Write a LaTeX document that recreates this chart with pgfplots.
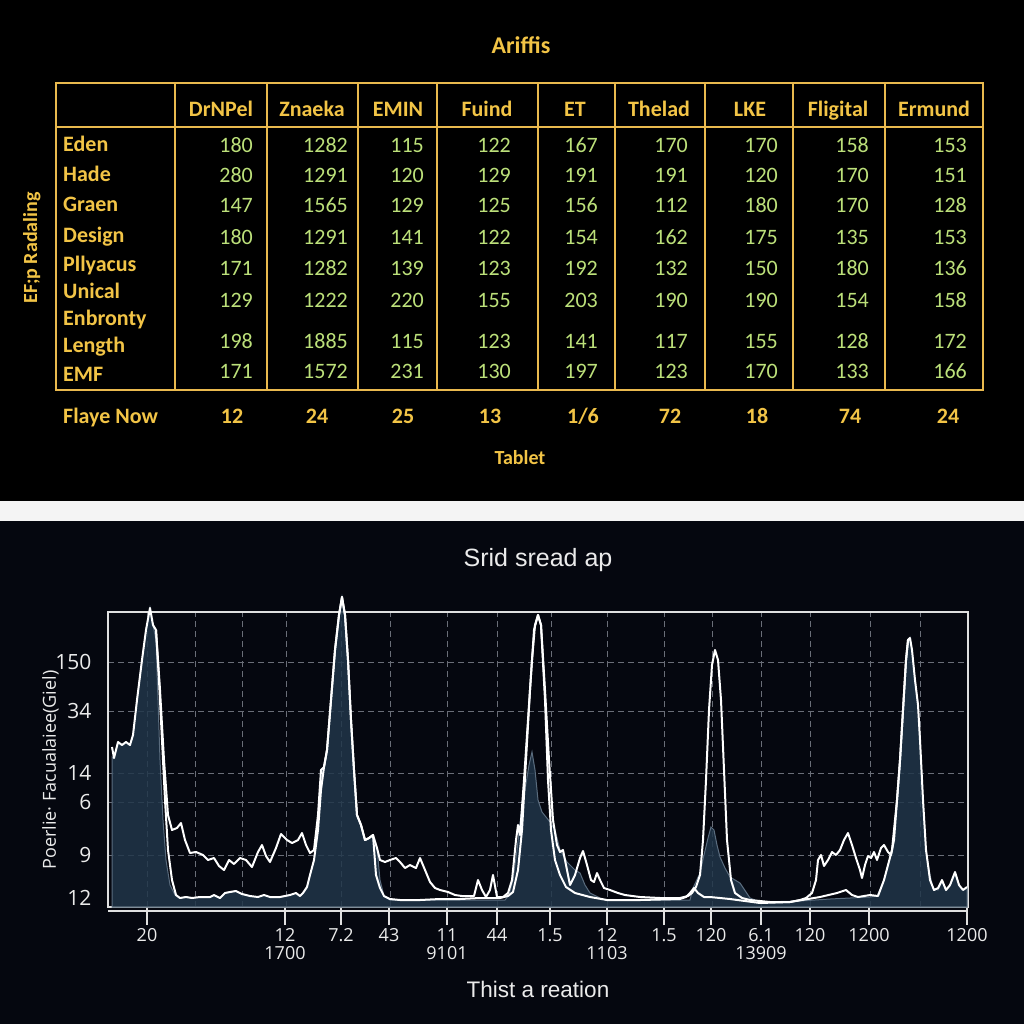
\documentclass[border=0pt]{standalone}
\usepackage{fontspec}
\usepackage{pgfplots}
\pgfplotsset{compat=1.18}
\setmainfont{Liberation Sans}
\newfontfamily\carlito{Carlito}
\newfontfamily\opensans{Open Sans}
\definecolor{gold}{HTML}{F2C446}
\definecolor{goldline}{HTML}{E9B94E}
\definecolor{valgreen}{HTML}{BCE07A}
\definecolor{bgtop}{HTML}{000000}
\definecolor{bgbot}{HTML}{05070F}
\definecolor{strip}{HTML}{F4F4F4}
\definecolor{areafill}{HTML}{213649}
\definecolor{areaedge}{HTML}{5A6C7E}
\definecolor{gridc}{HTML}{6A6E78}
\begin{document}
\begin{tikzpicture}
\path[use as bounding box] (0,0) rectangle (1024pt,-1024pt);
\fill[bgtop] (0,0) rectangle (1024pt,-501pt);
\fill[strip] (0,-501pt) rectangle (1024pt,-521pt);
\fill[bgbot] (0,-521pt) rectangle (1024pt,-1024pt);
% ---------- table ----------
\tikzset{
  hd/.style={inner sep=0pt, text=gold, font=\carlito\bfseries\fontsize{22}{26}\selectfont, text height=14pt, text depth=0pt},
  val/.style={inner sep=0pt, text=valgreen, font=\carlito\fontsize{22}{26}\selectfont, text height=14pt, text depth=0pt}
}
\draw[goldline, line width=2.5pt] (56pt,-83pt) rectangle (983pt,-390pt);
\draw[goldline, line width=2.5pt] (56pt,-127pt) -- (983pt,-127pt);
\foreach \xv in {175,267,358,437,538,615,705,793,885}
  \draw[goldline, line width=2.5pt] (\xv pt,-83pt) -- (\xv pt,-390pt);
\node[hd, font=\carlito\bfseries\fontsize{24}{28}\selectfont] at (521pt,-47pt) {Ariffis};
\foreach \xc/\t in {221/DrNPel, 312/Znaeka, 398/EMIN, 487/Fuind, 575/ET, 659/Thelad, 750/LKE, 838/Fligital, 934/Ermund}
  \node[hd] at (\xc pt,-110pt) {\t};
\foreach \yc/\t in {145/Eden, 175/Hade, 205/Graen, 236/Design, 264/Pllyacus, 291/Unical, 318/Enbronty, 345/Length, 374/EMF}
  \node[hd, anchor=west] at (63pt,-\yc pt) {\t};
\foreach \xr/\vals in {253/{180,280,147,180,171,129,198,171}, 348/{1282,1291,1565,1291,1282,1222,1885,1572}, 424/{115,120,129,141,139,220,115,231}, 511/{122,129,125,122,123,155,123,130}, 598/{167,191,156,154,192,203,141,197}, 688/{170,191,112,162,132,190,117,123}, 778/{170,120,180,175,150,190,155,170}, 869/{158,170,170,135,180,154,128,133}, 967/{153,151,128,153,136,158,172,166}}{
  \foreach \v [count=\i from 0] in \vals {
    \pgfmathsetmacro\yy{{146,176,206,237,268,300,341,371}[\i]}
    \node[val, anchor=east] at (\xr pt,-\yy pt) {\v};
  }
}
\node[hd, anchor=west] at (63pt,-416pt) {Flaye Now};
\foreach \xc/\t in {232/12, 317/24, 403/25, 490/13, 583/1\slash 6, 670/72, 757/18, 850/74, 948/24}
  \node[hd] at (\xc pt,-416pt) {\t};
\node[hd, font=\carlito\bfseries\fontsize{20}{24}\selectfont] at (520pt,-457pt) {Tablet};
\node[hd, rotate=90, font=\carlito\bfseries\fontsize{20}{24}\selectfont] at (30pt,-248pt) {EF;p Radaling};
% ---------- chart ----------
\begin{axis}[
  at={(108pt,-907pt)}, anchor=south west,
  scale only axis, width=860pt, height=295pt,
  xmin=108, xmax=968, ymin=0, ymax=295,
  clip=false,
  axis line style={white!88!black, line width=1.5pt},
  title={Srid sread ap},
  title style={at={(axis description cs:0.5,1.156)}, anchor=center, font=\fontsize{25}{30}\selectfont, text=white!92!black},
  xlabel={Thist a reation},
  xlabel style={at={(axis description cs:0.5,-0.281)}, anchor=center, font=\fontsize{22.5}{27}\selectfont, text=white!92!black},
  ylabel={Poerlie· Facualaiee(Giel)},
  ylabel style={at={(axis description cs:-0.067,0.464)}, anchor=center, font=\opensans\fontsize{18}{22}\selectfont, text=white!92!black},
  xtick pos=bottom, ytick pos=left,
  xtick={147,285,341,389,447,497,550,607,664,711,761,810,869,967},
  xticklabels={20,{12\\[-2pt]1700},7.2,43,{11\\[-2pt]9101},44,1.5,{12\\[-2pt]1103},1.5,120,{6.1\\[-2pt]13909},120,1200,1200},
  xticklabel style={font=\opensans\fontsize{18}{20}\selectfont, text=white!92!black, align=center},
  xtick style={white!88!black, line width=1.5pt},
  major tick length=18pt, tick align=outside,
  minor xtick={147,195,242,286,341,390,447,497,551,607,664,712,761,810,870,920},
  minor tick length=0pt,
  xminorgrids=true,
  minor x grid style={gridc, dashed, line width=1pt, dash pattern=on 6pt off 4pt},
  ytick={52,105,134,196,245},
  yticklabels={9,6,14,34,150},
  extra y ticks={9}, extra y tick labels={12},
  extra y tick style={grid=none},
  ytick style={draw=none},
  yticklabel style={font=\opensans\fontsize{21}{23}\selectfont, text=white!92!black, xshift=5pt},
  ymajorgrids=true,
  major y grid style={gridc, dashed, line width=1pt, dash pattern=on 6pt off 4pt},
  /pgf/number format/assume math mode=true,
]
\addplot[draw=areaedge, line width=1pt, fill=areafill, fill opacity=0.85] coordinates {
(112,150)(114,149)(118,165)(122,162)(126,165)(130,162)(133,172)(137,207)(142,247)(146,277)(150,299)(153,282)(156,267)(158,207)(160,147)(163,87)(166,47)(170,22)(175,12)(180,9)(186,10)(192,9)(200,10)(210,10)(214,12)(220,9)(225,14)(230,15)(236,16)(242,13)(250,11)(258,10)(264,12)(270,10)(280,10)(290,12)(296,14)(300,11)(303,14)(307,20)(310,32)(314,47)(318,77)(321,137)(324,140)(327,157)(331,207)(335,257)(339,292)(342,310)(345,292)(348,247)(351,187)(354,137)(357,92)(361,82)(365,67)(369,69)(373,72)(377,59)(380,27)(384,11)(390,7)(505,7)(509,12)(513,27)(517,57)(521,92)(525,117)(529,142)(532,155)(535,137)(538,107)(542,95)(546,90)(550,85)(555,77)(560,57)(567,45)(575,37)(580,34)(585,22)(590,14)(600,9)(607,7)(690,7)(693,19)(700,34)(704,52)(708,69)(711,80)(714,77)(717,62)(720,50)(725,39)(730,30)(740,24)(746,15)(750,9)(760,5)(800,6)(830,8)(850,9)(870,10)(877,11)(884,27)(888,42)(892,57)(895,87)(898,117)(900,137)(903,192)(906,242)(908,262)(910,269)(912,257)(915,227)(918,204)(920,162)(923,102)(926,57)(930,32)(933,19)(938,17)(942,25)(946,17)(950,21)(955,33)(959,22)(963,17)(967,19)
} \closedcycle;
\addplot[white, line width=2pt, line join=round] coordinates {
(112,160)(114,149)(118,165)(122,162)(126,165)(130,162)(133,172)(137,207)(142,247)(146,277)(150,299)(153,282)(156,277)(160,217)(164,147)(168,92)(172,77)(177,79)(181,84)(185,67)(190,54)(196,55)(203,52)(208,47)(214,49)(219,41)(224,37)(229,47)(234,43)(240,49)(246,47)(252,40)(258,55)(262,62)(266,51)(270,45)(276,59)(281,73)(287,67)(292,64)(298,67)(302,74)(306,62)(310,54)(314,57)(318,92)(321,137)(324,140)(327,157)(331,207)(335,257)(339,292)(342,310)(345,292)(348,247)(351,187)(354,137)(357,92)(361,82)(365,67)(369,69)(373,72)(377,59)(380,47)(385,45)(390,47)(396,49)(400,45)(405,39)(410,42)(416,39)(420,49)(425,37)(430,25)(435,19)(440,17)(448,15)(455,12)(462,11)(470,11)(474,11)(478,27)(482,17)(486,10)(490,17)(493,32)(497,10)(503,10)(508,14)(512,27)(516,67)(518,82)(520,72)(524,127)(528,187)(532,247)(535,282)(538,292)(541,282)(545,217)(549,147)(553,87)(557,62)(560,55)(563,57)(567,37)(570,22)(575,32)(580,49)(583,56)(587,42)(591,27)(594,25)(597,34)(600,27)(604,19)(610,17)(618,14)(625,12)(640,10)(660,9)(680,9)(688,11)(692,14)(696,20)(700,32)(703,67)(706,127)(709,197)(712,242)(715,257)(718,247)(721,207)(724,137)(727,67)(731,27)(735,14)(742,9)(750,7)(770,5)(790,5)(800,7)(806,9)(812,14)(816,27)(818,47)(821,52)(824,41)(828,47)(832,55)(836,52)(840,57)(844,67)(848,74)(852,62)(856,49)(860,37)(862,29)(865,42)(868,51)(871,49)(874,55)(877,47)(881,59)(884,62)(888,55)(891,52)(894,67)(897,107)(900,147)(903,197)(906,247)(908,267)(910,269)(912,257)(915,227)(918,202)(920,167)(923,107)(926,57)(930,27)(934,17)(938,19)(942,27)(946,17)(950,22)(955,35)(959,22)(963,17)(967,20)
};
\addplot[white, line width=2pt, line join=round] coordinates {
(156,277)(159,227)(162,167)(165,107)(168,57)(172,27)(176,12)(180,9)(186,10)(192,9)(200,10)(210,10)(214,12)(220,9)(225,14)(230,15)(236,16)(242,13)(250,11)(258,10)(264,12)(270,10)(280,10)(290,12)(296,14)(300,11)(303,14)(307,20)(310,32)(314,47)(318,77)(321,117)(324,140)(327,157)(331,207)(335,257)(339,292)(342,310)(345,292)(348,247)(351,187)(354,137)(357,92)(361,82)(365,67)(369,69)(373,72)(376,32)(380,19)(384,11)(390,8)(400,7)(420,7)(440,8)(460,8)(480,9)(500,9)(508,11)(513,15)(518,37)(522,77)(526,147)(530,217)(534,277)(538,292)(541,282)(545,207)(548,127)(551,77)(555,47)(560,32)(566,20)(575,14)(590,10)(607,7)(640,7)(680,8)(686,10)(690,14)(694,19)(698,14)(704,10)(710,10)(730,8)(760,4)(790,5)(820,10)(837,14)(846,17)(852,12)(858,10)(870,12)(878,11)(884,27)(888,42)(892,57)(897,107)(900,147)(903,197)(906,247)(908,267)(910,269)
};
\end{axis}
\draw[white!88!black, line width=1.5pt] (108pt,-911pt) -- (968pt,-911pt);
\end{tikzpicture}
\end{document}
